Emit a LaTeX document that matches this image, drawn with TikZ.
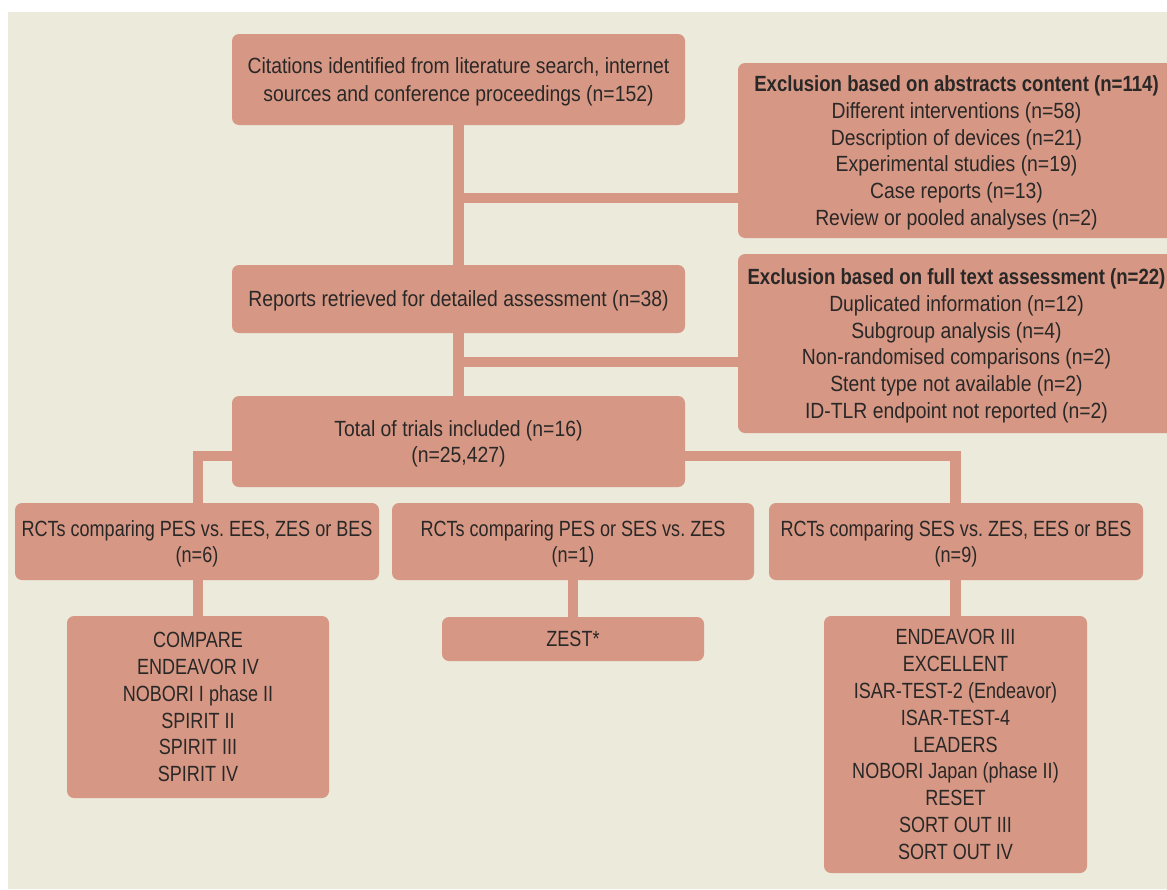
\documentclass[tikz,border=0pt]{standalone}
\usepackage{fontspec}
\setmainfont{Liberation Sans}[FakeStretch=0.88,BoldFeatures={FakeStretch=0.845}]
\newfontfamily\narrowfont{Liberation Sans}[FakeStretch=0.82]
\usetikzlibrary{backgrounds}
\definecolor{bgc}{HTML}{ECEADB}
\definecolor{boxc}{HTML}{D69885}
\definecolor{txtc}{HTML}{2A2727}
\frenchspacing
\begin{document}
\begin{tikzpicture}[x=1pt,y=-1pt,
  box/.style={fill=boxc, rounded corners=7pt, align=center, text=txtc, inner sep=0pt,
    text depth=0pt, font=\fontsize{22}{26.8}\selectfont},
  nbox/.style={box, font=\narrowfont\fontsize{22}{26.8}\selectfont},
  link/.style={draw=boxc, line width=10.5pt}]
\useasboundingbox (0,0) rectangle (1167,889);
\begin{scope}
\clip (0,0) rectangle (1167,889);
\node[box, minimum width=453, minimum height=91, font=\fontsize{22}{28.5}\selectfont] (cit) at (458.5,79.5)
  {Citations identified from literature search, internet\\sources and conference proceedings (n=152)};
\node[box, minimum width=437, minimum height=175] (exa) at (956.5,150.5)
  {\textbf{Exclusion based on abstracts content (n=114)}\\Different interventions (n=58)\\Description of devices (n=21)\\Experimental studies (n=19)\\Case reports (n=13)\\Review or pooled analyses (n=2)};
\node[box, minimum width=453, minimum height=68] (rep) at (458.5,299)
  {Reports retrieved for detailed assessment (n=38)};
\node[box, minimum width=437, minimum height=179] (exf) at (956.5,343.5)
  {\textbf{Exclusion based on full text assessment (n=22)}\\Duplicated information (n=12)\\Subgroup analysis (n=4)\\Non-randomised comparisons (n=2)\\Stent type not available (n=2)\\ID-TLR endpoint not reported (n=2)};
\node[box, minimum width=453, minimum height=91] (tot) at (458.5,441.5)
  {Total of trials included (n=16)\\(n=25,427)};
\node[nbox, minimum width=364, minimum height=77] (r1) at (197,541.5)
  {RCTs comparing PES vs. EES, ZES or BES\\(n=6)};
\node[nbox, minimum width=362, minimum height=77] (r2) at (573,541.5)
  {RCTs comparing PES or SES vs. ZES\\(n=1)};
\node[nbox, minimum width=374, minimum height=77] (r3) at (956,541.5)
  {RCTs comparing SES vs. ZES, EES or BES\\(n=9)};
\node[nbox, minimum width=262, minimum height=182] (c1) at (198,707)
  {COMPARE\\ENDEAVOR IV\\NOBORI I phase II\\SPIRIT II\\SPIRIT III\\SPIRIT IV};
\node[nbox, minimum width=262, minimum height=44] (c2) at (573,639)
  {ZEST*};
\node[nbox, minimum width=263, minimum height=257] (c3) at (955.5,744.5)
  {ENDEAVOR III\\EXCELLENT\\ISAR-TEST-2 (Endeavor)\\ISAR-TEST-4\\LEADERS\\NOBORI Japan (phase II)\\RESET\\SORT OUT III\\SORT OUT IV};
\end{scope}
\coordinate (j1) at (458,198);
\coordinate (j2) at (458,362);
\coordinate (t1) at (232,456);
\coordinate (t2) at (685,456);
\begin{pgfonlayer}{background}
\fill[bgc] (8,12) rectangle (1167,889);
\draw[link] (cit.south) -- (rep.north);
\draw[link] (j1) -- (j1 -| exa.west);
\draw[link] (rep.south) -- (tot.north);
\draw[link] (j2) -- (j2 -| exf.west);
\draw[link] (t1) -| (r1.north -| c1.north);
\draw[link] (t2) -| (r3.north -| c3.north);
\draw[link] (r1.south -| c1.north) -- (c1.north);
\draw[link] (r2.south) -- (c2.north);
\draw[link] (r3.south -| c3.north) -- (c3.north);
\end{pgfonlayer}
\end{tikzpicture}
\end{document}
